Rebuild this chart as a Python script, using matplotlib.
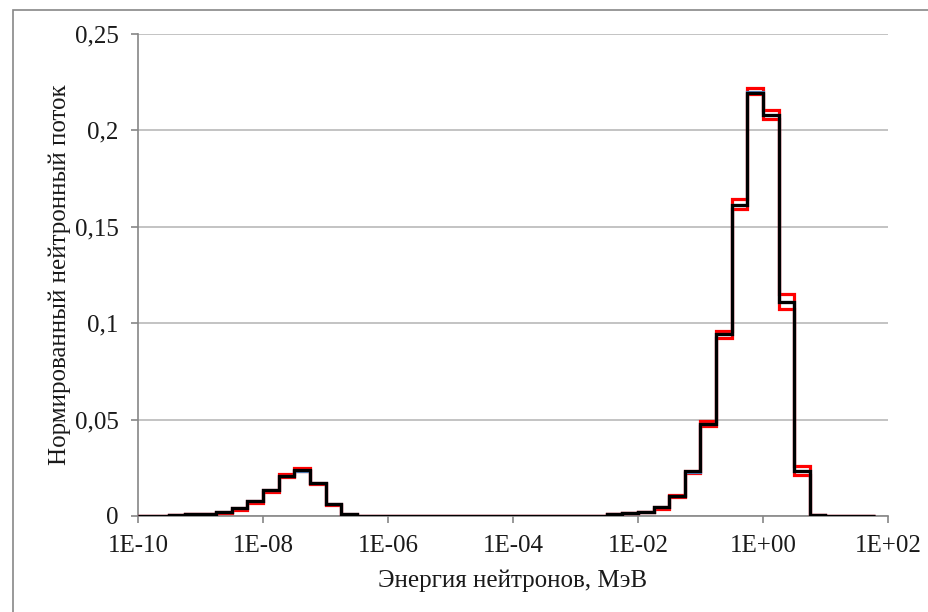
import numpy as np
import matplotlib
matplotlib.use("Agg")
import matplotlib.pyplot as plt
from matplotlib.patches import Rectangle
from matplotlib.ticker import FixedLocator

# Bin edges (log10 of energy, MeV): quarter-decade groups, last bin wider
log_edges = [-10.0, -9.75, -9.5, -9.25, -9.0, -8.75, -8.5, -8.25, -8.0, -7.75,
             -7.5, -7.25, -7.0, -6.75, -6.5, -6.25, -6.0, -5.75, -5.5, -5.25,
             -5.0, -4.75, -4.5, -4.25, -4.0, -3.75, -3.5, -3.25, -3.0, -2.75,
             -2.5, -2.25, -2.0, -1.75, -1.5, -1.25, -1.0, -0.75, -0.5, -0.25,
             0.0, 0.25, 0.5, 0.75, 1.0, 1.8]

flux_black = [0.0002, 0.0002, 0.0003, 0.0011, 0.0011, 0.0020, 0.0040, 0.0077, 0.0136, 0.0210,
              0.0236, 0.0170, 0.0063, 0.0008, 0.0002, 0.0001, 0.0001, 0.0001, 0.0001, 0.0001,
              0.0001, 0.0001, 0.0001, 0.0001, 0.0001, 0.0001, 0.0001, 0.0001, 0.0001, 0.0002,
              0.0011, 0.0015, 0.0023, 0.0049, 0.0106, 0.0231, 0.0479, 0.0946, 0.1612, 0.2195,
              0.2079, 0.1110, 0.0233, 0.0006, 0.0002]

flux_blue = [0.0002, 0.0002, 0.0003, 0.0011, 0.0011, 0.0020, 0.0039, 0.0076, 0.0135, 0.0209,
             0.0235, 0.0169, 0.0062, 0.0008, 0.0002, 0.0001, 0.0001, 0.0001, 0.0001, 0.0001,
             0.0001, 0.0001, 0.0001, 0.0001, 0.0001, 0.0001, 0.0001, 0.0001, 0.0001, 0.0002,
             0.0011, 0.0015, 0.0022, 0.0047, 0.0103, 0.0229, 0.0477, 0.0944, 0.1614, 0.2199,
             0.2081, 0.1112, 0.0234, 0.0006, 0.0002]

flux_red_upper = [0.0002, 0.0002, 0.0003, 0.0011, 0.0011, 0.0020, 0.0040, 0.0077, 0.0136, 0.0219,
                  0.0250, 0.0172, 0.0063, 0.0008, 0.0002, 0.0001, 0.0001, 0.0001, 0.0001, 0.0001,
                  0.0001, 0.0001, 0.0001, 0.0001, 0.0001, 0.0001, 0.0001, 0.0001, 0.0001, 0.0002,
                  0.0011, 0.0015, 0.0023, 0.0049, 0.0107, 0.0233, 0.0491, 0.0960, 0.1642, 0.2218,
                  0.2105, 0.1154, 0.0259, 0.0007, 0.0002]

flux_red_lower = [0.0002, 0.0002, 0.0003, 0.0010, 0.0010, 0.0018, 0.0029, 0.0069, 0.0124, 0.0201,
                  0.0234, 0.0164, 0.0055, 0.0006, 0.0002, 0.0001, 0.0001, 0.0001, 0.0001, 0.0001,
                  0.0001, 0.0001, 0.0001, 0.0001, 0.0001, 0.0001, 0.0001, 0.0001, 0.0001, 0.0002,
                  0.0010, 0.0013, 0.0020, 0.0037, 0.0100, 0.0221, 0.0465, 0.0923, 0.1590, 0.2189,
                  0.2057, 0.1072, 0.0215, 0.0004, 0.0002]

x_ticks = [1e-10, 1e-8, 1e-6, 1e-4, 1e-2, 1e0, 1e2]
x_tick_labels = ["1E-10", "1E-08", "1E-06", "1E-04", "1E-02", "1E+00", "1E+02"]
y_ticks = [0, 0.05, 0.1, 0.15, 0.2, 0.25]
y_tick_labels = ["0", "0,05", "0,1", "0,15", "0,2", "0,25"]

plt.rcParams['font.family'] = ['Liberation Serif', 'DejaVu Serif']

W, H = 929, 612
fig = plt.figure(figsize=(W / 100, H / 100), dpi=100)
fig.patch.set_facecolor('white')

# outer chart border (partly clipped by the image edge)
fig.add_artist(Rectangle((13 / W, -0.2), 1.2, 1.2 - 10 / H,
                         transform=fig.transFigure, fill=False,
                         edgecolor='#878787', linewidth=1.2))

ax = fig.add_axes([138 / W, 1 - 516 / H, (888 - 138) / W, (516 - 34) / H])

edges = np.power(10.0, np.array(log_edges))

lw = 2.3
ax.stairs(flux_red_upper, edges, baseline=None, color='#FF0000', linewidth=lw, zorder=3)
ax.stairs(flux_red_lower, edges, baseline=None, color='#FF0000', linewidth=lw, zorder=3)
ax.stairs(flux_blue, edges, baseline=None, color='#4F81BD', linewidth=lw, zorder=4)
ax.stairs(flux_black, edges, baseline=None, color='#000000', linewidth=lw, zorder=5)

ax.set_xscale('log')
ax.set_xlim(1e-10, 1e2)
ax.set_ylim(0, 0.25)

ax.set_xticks(x_ticks)
ax.set_xticklabels(x_tick_labels)
ax.xaxis.set_minor_locator(FixedLocator([]))
ax.set_yticks(y_ticks)
ax.set_yticklabels(y_tick_labels)

ax.grid(axis='y', color='#BEBEBE', linewidth=1.3, zorder=0)
ax.set_axisbelow(True)

for s in ['top', 'right']:
    ax.spines[s].set_visible(False)
for s in ['left', 'bottom']:
    ax.spines[s].set_color('#868686')
    ax.spines[s].set_linewidth(1.2)

fs = 18
ax.tick_params(axis='both', which='major', direction='out', length=5,
               width=1.2, color='#868686', labelsize=fs, labelcolor='#1a1a1a')
ax.tick_params(axis='y', pad=9)
ax.tick_params(axis='x', pad=9)
ax.tick_params(axis='x', which='minor', length=0)

ax.set_xlabel("Энергия нейтронов, МэВ", fontsize=fs, color='#1a1a1a', labelpad=9)
ax.set_ylabel("Нормированный нейтронный поток", fontsize=fs, color='#1a1a1a', labelpad=3)

fig.savefig("out.png", dpi=100)
